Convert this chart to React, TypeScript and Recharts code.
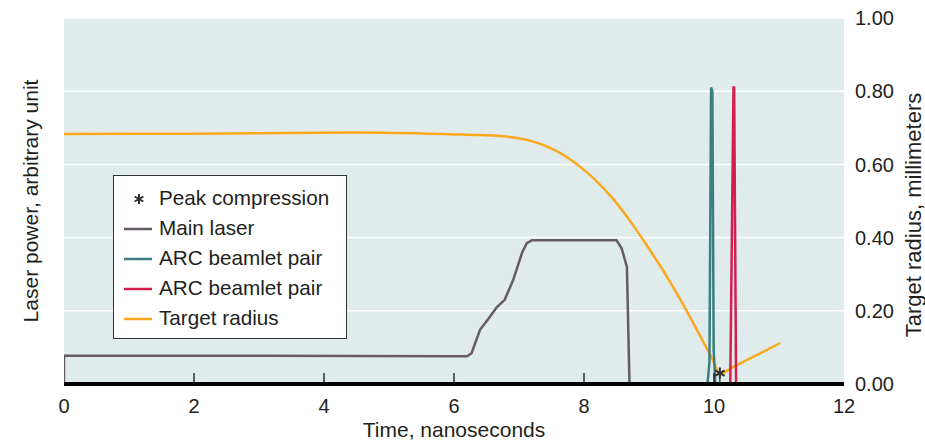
import React from "react";
import {
  ComposedChart,
  Line,
  Scatter,
  XAxis,
  YAxis,
  CartesianGrid,
  Legend,
  Label,
} from "recharts";

// time axis, nanoseconds
const xTicks = [0, 2, 4, 6, 8, 10, 12];
const yTicks = [0, 0.2, 0.4, 0.6, 0.8, 1.0];

// main laser pulse (arbitrary unit, same scale as plot)
const mainT = [0, 0, 3, 6.0, 6.2, 6.27, 6.4, 6.55, 6.66, 6.78, 6.91, 7.05, 7.12, 7.2, 8.5, 8.58, 8.66, 8.7, 12];
const mainP = [0, 0.077, 0.077, 0.076, 0.076, 0.084, 0.148, 0.183, 0.21, 0.23, 0.284, 0.36, 0.385, 0.393, 0.393, 0.37, 0.32, 0, 0];

// ARC beamlet pairs
const arc1T = [9.9, 9.93, 9.955, 9.975, 9.995, 10.005, 10.02];
const arc1P = [0, 0.06, 0.81, 0.8, 0.09, 0.06, 0];
const arc2T = [10.25, 10.3, 10.31, 10.34];
const arc2P = [0, 0.81, 0.81, 0];

// target radius, millimeters
const radT = [0, 2, 4.5, 6, 6.4, 6.86, 7.17, 7.48, 7.78, 8.0, 8.2, 8.45, 8.71, 8.98, 9.28, 9.5, 9.7, 9.85, 9.97, 10.09, 10.29, 11.02];
const radR = [0.683, 0.684, 0.687, 0.682, 0.68, 0.675, 0.665, 0.645, 0.615, 0.585, 0.553, 0.505, 0.445, 0.375, 0.292, 0.225, 0.16, 0.11, 0.07, 0.028, 0.046, 0.112];

// peak compression marker
const peakT = [10.09];
const peakR = [0.03];

const COLORS = {
  main: "#655a66",
  arc1: "#3b7f81",
  arc2: "#d21f50",
  radius: "#fba81c",
  star: "#333",
  text: "#231f20",
};

const zip = (t: number[], v: number[]) => t.map((x, i) => ({ t: x, v: v[i] }));

const mainData = zip(mainT, mainP);
const arc1Data = zip(arc1T, arc1P);
const arc2Data = zip(arc2T, arc2P);
const radData = zip(radT, radR);
const peakData = zip(peakT, peakR);

const legendItems = [
  { name: "Peak compression", color: COLORS.star, star: true },
  { name: "Main laser", color: COLORS.main },
  { name: "ARC beamlet pair", color: COLORS.arc1 },
  { name: "ARC beamlet pair", color: COLORS.arc2 },
  { name: "Target radius", color: COLORS.radius },
];

const FONT = "'Liberation Sans', Arial, Helvetica, sans-serif";

function starPath(cx: number, cy: number, r: number) {
  let d = "";
  for (let k = 0; k < 3; k++) {
    const a = (Math.PI / 3) * k + Math.PI / 2;
    const dx = Math.cos(a) * r;
    const dy = Math.sin(a) * r;
    d += `M${cx - dx},${cy - dy}L${cx + dx},${cy + dy}`;
  }
  return d;
}

function StarShape(props: any) {
  const { cx, cy } = props;
  return (
    <g>
      <line x1={cx} x2={cx} y1={cy} y2={cy + 11} stroke="#222" strokeWidth={1.2} />
      <path d={starPath(cx, cy, 5.5)} stroke={COLORS.star} strokeWidth={2} />
    </g>
  );
}

function XTick(props: any) {
  const { x, y, payload } = props;
  const v = payload.value;
  return (
    <g>
      {v > 0 && v < 12 && (
        <line x1={x} x2={x} y1={y} y2={y - 11} stroke="#000" strokeWidth={1.2} />
      )}
      <text x={x} y={y + 29} textAnchor="middle" fontSize={20} fill={COLORS.text} fontFamily={FONT}>
        {v}
      </text>
    </g>
  );
}

function LegendBox() {
  return (
    <div
      style={{
        width: 234,
        height: 164,
        border: "1.5px solid #333",
        background: "#fff",
        boxSizing: "border-box",
        paddingTop: 7,
        fontFamily: FONT,
        fontSize: 20.7,
        color: COLORS.text,
      }}
    >
      {legendItems.map((it, i) => (
        <div key={i} style={{ display: "flex", alignItems: "center", height: 30 }}>
          <svg width={45} height={30} style={{ flex: "none" }}>
            {it.star ? (
              <path d={starPath(25, 16, 5)} stroke={it.color} strokeWidth={2} />
            ) : (
              <line x1={10} x2={38} y1={16} y2={16} stroke={it.color} strokeWidth={2.5} />
            )}
          </svg>
          <span>{it.name}</span>
        </div>
      ))}
    </div>
  );
}

function LeftTitle(props: any) {
  const { viewBox } = props;
  const cx = viewBox.x + 38;
  const cy = viewBox.y + viewBox.height / 2;
  return (
    <text
      x={cx}
      y={cy}
      transform={`rotate(-90, ${cx}, ${cy})`}
      textAnchor="middle"
      fontSize={21}
      fill={COLORS.text}
      fontFamily={FONT}
    >
      Laser power, arbitrary unit
    </text>
  );
}

function RightTitle(props: any) {
  const { viewBox } = props;
  const cx = viewBox.x + 77;
  const cy = viewBox.y + viewBox.height / 2 + 14;
  return (
    <text
      x={cx}
      y={cy}
      transform={`rotate(-90, ${cx}, ${cy})`}
      textAnchor="middle"
      fontSize={22}
      fill={COLORS.text}
      fontFamily={FONT}
    >
      Target radius, millimeters
    </text>
  );
}

export default function App() {
  return (
    <div style={{ position: "absolute", left: 0, top: 0 }}>
      <ComposedChart width={925} height={440} margin={{ top: 18, right: 0, bottom: 0, left: 0 }}>
        <CartesianGrid yAxisId="right" vertical={false} stroke="#fff" strokeWidth={1.5} fill="#e0ecec" />
        <XAxis
          type="number"
          dataKey="t"
          domain={[0, 12]}
          ticks={xTicks}
          height={56}
          tickSize={0}
          tickMargin={0}
          tickLine={false}
          axisLine={{ stroke: "#000", strokeWidth: 4 }}
          tick={<XTick />}
          allowDataOverflow
        >
          <Label
            value="Time, nanoseconds"
            position="insideBottom"
            offset={3}
            fontSize={21}
            fill={COLORS.text}
            fontFamily={FONT}
          />
        </XAxis>
        <YAxis
          yAxisId="left"
          orientation="left"
          width={64}
          domain={[0, 1]}
          ticks={yTicks}
          axisLine={false}
          tickLine={false}
          tick={false}
        >
          <Label content={<LeftTitle />} />
        </YAxis>
        <YAxis
          yAxisId="right"
          orientation="right"
          width={81}
          domain={[0, 1]}
          ticks={yTicks}
          axisLine={false}
          tickLine={false}
          tickSize={0}
          tickMargin={11}
          tickFormatter={(v: number) => v.toFixed(2)}
          tick={{ fontSize: 20, fill: COLORS.text, fontFamily: FONT }}
        >
          <Label content={<RightTitle />} />
        </YAxis>
        <Line
          yAxisId="left"
          data={mainData}
          dataKey="v"
          type="linear"
          stroke={COLORS.main}
          strokeWidth={2.5}
          dot={false}
          isAnimationActive={false}
        />
        <Line
          yAxisId="right"
          data={radData}
          dataKey="v"
          type="monotone"
          stroke={COLORS.radius}
          strokeWidth={2.5}
          dot={false}
          isAnimationActive={false}
        />
        <Line
          yAxisId="left"
          data={arc1Data}
          dataKey="v"
          type="linear"
          stroke={COLORS.arc1}
          strokeWidth={2.5}
          dot={false}
          isAnimationActive={false}
        />
        <Line
          yAxisId="left"
          data={arc2Data}
          dataKey="v"
          type="linear"
          stroke={COLORS.arc2}
          strokeWidth={2.5}
          dot={false}
          isAnimationActive={false}
        />
        <Scatter
          yAxisId="right"
          data={peakData}
          dataKey="v"
          shape={<StarShape />}
          isAnimationActive={false}
        />
        <Legend
          layout="horizontal"
          verticalAlign="middle"
          align="center"
          content={<LegendBox />}
          wrapperStyle={{ left: 113, top: 175, width: 234, height: 164 }}
        />
      </ComposedChart>
    </div>
  );
}
